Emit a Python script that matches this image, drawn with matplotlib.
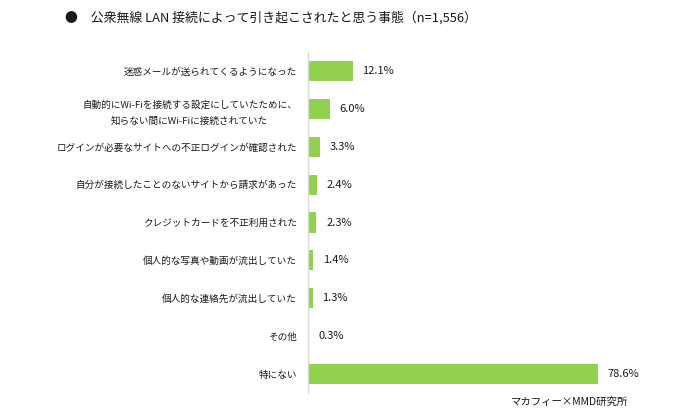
import matplotlib
matplotlib.use("Agg")
import matplotlib.pyplot as plt

plt.rcParams['font.family'] = ['Noto Sans CJK JP', 'DejaVu Sans']

categories = [
    "迷惑メールが送られてくるようになった",
    "自動的にWi-Fiを接続する設定にしていたために、\n知らない間にWi-Fiに接続されていた",
    "ログインが必要なサイトへの不正ログインが確認された",
    "自分が接続したことのないサイトから請求があった",
    "クレジットカードを不正利用された",
    "個人的な写真や動画が流出していた",
    "個人的な連絡先が流出していた",
    "その他",
    "特にない",
]
values = [12.1, 6.0, 3.3, 2.4, 2.3, 1.4, 1.3, 0.3, 78.6]
title = "●　公衆無線 LAN 接続によって引き起こされたと思う事態（n=1,556）"
source = "マカフィー×MMD研究所"

W, H = 700, 412
fig = plt.figure(figsize=(W / 100, H / 100), dpi=100)
ax_left, ax_right, ax_top, ax_bot = 308, 677, 52, 393
ax = fig.add_axes([ax_left / W, 1 - ax_bot / H, (ax_right - ax_left) / W, (ax_bot - ax_top) / H])

ypos = list(range(len(categories)))
ax.barh(ypos, values, height=0.53, color="#92D050")
ax.set_xlim(0, 100)
ax.set_ylim(len(categories) - 0.5, -0.5)
ax.set_yticks(ypos)
ax.set_yticklabels(categories, fontsize=6.9, color="#1a1a1a", linespacing=1.9)
for lbl in ax.get_yticklabels():
    lbl.set_multialignment("center")
ax.tick_params(axis='y', length=0, pad=8)
ax.set_xticks([])
for s in ["top", "right", "bottom"]:
    ax.spines[s].set_visible(False)
ax.spines["left"].set_color("#d9d9d9")
ax.spines["left"].set_linewidth(1.0)

for y, v in zip(ypos, values):
    ax.annotate(f"{v:.1f}%", xy=(v, y), xytext=(7, 0), textcoords="offset points",
                va="center", ha="left", fontsize=8, color="#1a1a1a")

fig.text(65 / W, 1 - 18 / H, title, fontsize=9.3, va="center", ha="left", color="#1a1a1a")
fig.text(628 / W, 1 - 402 / H, source, fontsize=7.5, va="center", ha="right", color="#1a1a1a")

fig.savefig("out.png", dpi=100)
